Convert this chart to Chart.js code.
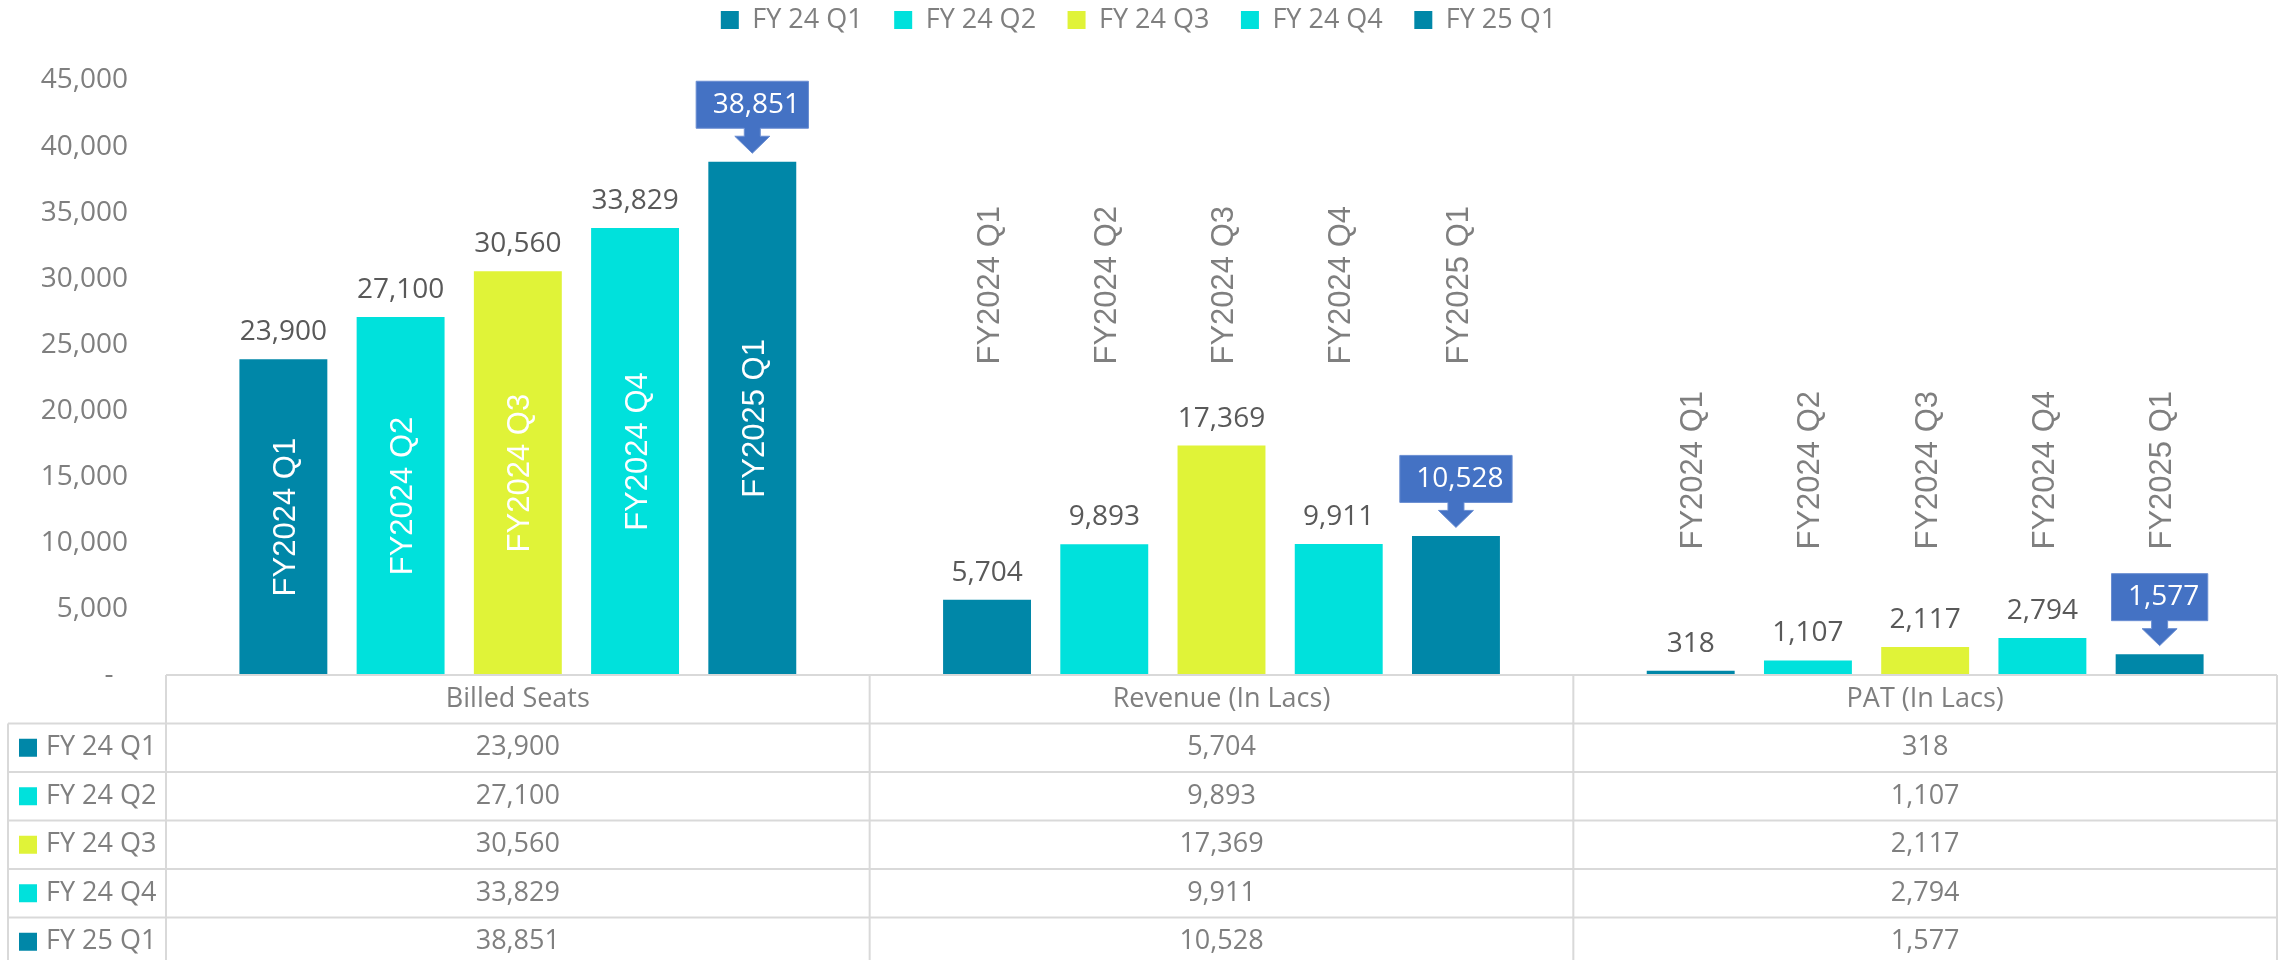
<!DOCTYPE html>
<html><head><meta charset="utf-8">
<script src="https://cdn.jsdelivr.net/npm/chart.js@4.4.1/dist/chart.umd.min.js"></script>
<style>html,body{margin:0;padding:0;background:#fff;overflow:hidden}#wrap{width:2285px;height:960px;position:relative}</style>
</head><body><div id="wrap"><canvas id="c" width="2285" height="960"></canvas></div>
<script>
const categories = ['Billed Seats', 'Revenue (In Lacs)', 'PAT (In Lacs)'];
const seriesNames = ['FY 24 Q1', 'FY 24 Q2', 'FY 24 Q3', 'FY 24 Q4', 'FY 25 Q1'];
const barTags = ['FY2024 Q1', 'FY2024 Q2', 'FY2024 Q3', 'FY2024 Q4', 'FY2025 Q1'];
const fy24q1 = [23900, 5704, 318];
const fy24q2 = [27100, 9893, 1107];
const fy24q3 = [30560, 17369, 2117];
const fy24q4 = [33829, 9911, 2794];
const fy25q1 = [38851, 10528, 1577];
const yTicks = [0, 5000, 10000, 15000, 20000, 25000, 30000, 35000, 40000, 45000];

const seriesValues = [fy24q1, fy24q2, fy24q3, fy24q4, fy25q1];
const seriesColors = ['#0087A8', '#00E1DC', '#E0F338', '#00E1DC', '#0087A8'];
const calloutSeries = 4;
// vertical anchor (axis units) of rotated tags per category; null = middle of bar
const tagAnchor = [null, 29500, 15500];

const FONT = '"Open Sans", "Liberation Sans", sans-serif';
const fmt = v => v.toLocaleString('en-US');

const legendSpacing = {
  id: 'legendSpacing',
  afterInit(chart) {
    const lg = chart.legend;
    if (!lg || lg._patched) return;
    const orig = lg.fit;
    lg.fit = function () { orig.call(this); this.height += 37; };
    lg._patched = true;
  }
};

const barLabels = {
  id: 'barLabels',
  afterDatasetsDraw(chart) {
    const ctx = chart.ctx;
    const ys = chart.scales.y;
    ctx.save();
    chart.data.datasets.forEach((ds, di) => {
      const meta = chart.getDatasetMeta(di);
      meta.data.forEach((bar, i) => {
        const v = ds.data[i];
        const txt = fmt(v);
        const bx = bar.x, by = bar.y;
        // rotated tag
        ctx.save();
        let ty, col;
        if (tagAnchor[i] === null) { ty = (bar.y + bar.base) / 2; col = '#FFFFFF'; }
        else { ty = ys.getPixelForValue(tagAnchor[i]); col = '#7F7F7F'; }
        ctx.translate(bx + 1, ty);
        ctx.rotate(-Math.PI / 2);
        ctx.font = '31px "Liberation Sans", Arial, sans-serif';
        ctx.fillStyle = col;
        ctx.textAlign = 'center';
        ctx.textBaseline = 'middle';
        ctx.fillText(barTags[di], 0, 2);
        ctx.restore();

        ctx.font = '28px ' + FONT;
        if (di === calloutSeries) {
          const tw = ctx.measureText(txt).width;
          const bw = tw + 25, bh = 47;
          const tip = by - 8.5;
          const headTop = tip - 17;
          const stemTop = headTop - 8;
          const boxBottom = stemTop;
          const boxTop = boxBottom - bh;
          ctx.fillStyle = '#4472C4';
          ctx.strokeStyle = '#6A8ED2';
          ctx.lineWidth = 1;
          ctx.beginPath();
          ctx.moveTo(bx - bw / 2, boxTop);
          ctx.lineTo(bx + bw / 2, boxTop);
          ctx.lineTo(bx + bw / 2, boxBottom);
          ctx.lineTo(bx + 8, boxBottom);
          ctx.lineTo(bx + 8, headTop);
          ctx.lineTo(bx + 17.5, headTop);
          ctx.lineTo(bx, tip);
          ctx.lineTo(bx - 17.5, headTop);
          ctx.lineTo(bx - 8, headTop);
          ctx.lineTo(bx - 8, boxBottom);
          ctx.lineTo(bx - bw / 2, boxBottom);
          ctx.closePath();
          ctx.fill();
          ctx.stroke();
          ctx.fillStyle = '#FFFFFF';
          ctx.textAlign = 'center';
          ctx.textBaseline = 'middle';
          ctx.fillText(txt, bx + 4, (boxTop + boxBottom) / 2);
        } else {
          ctx.fillStyle = '#595959';
          ctx.textAlign = 'center';
          ctx.textBaseline = 'alphabetic';
          ctx.fillText(txt, bx, by - 19);
        }
      });
    });
    ctx.restore();
  }
};

const dataTable = {
  id: 'dataTable',
  afterDraw(chart) {
    const ctx = chart.ctx;
    const ca = chart.chartArea;
    const xs = chart.scales.x;
    const H = chart.height;
    const n = categories.length;
    const colW = ca.width / n;
    const rowH = 48.5;
    const top = ca.bottom;
    const leftCol = 8;
    const rows = chart.data.datasets.length;
    ctx.save();
    ctx.strokeStyle = '#D9D9D9';
    ctx.lineWidth = 2;
    const line = (x1, y1, x2, y2) => { ctx.beginPath(); ctx.moveTo(x1, y1); ctx.lineTo(x2, y2); ctx.stroke(); };
    line(ca.left, top, ca.right, top);
    for (let r = 1; r <= rows; r++) line(leftCol, top + r * rowH, ca.right, top + r * rowH);
    for (let c = 0; c <= n; c++) line(ca.left + c * colW, top, ca.left + c * colW, H);
    line(leftCol, top + rowH, leftCol, H);

    ctx.font = '27px ' + FONT;
    ctx.fillStyle = '#7F7F7F';
    ctx.textAlign = 'center';
    ctx.textBaseline = 'middle';
    for (let c = 0; c < n; c++) ctx.fillText(categories[c], xs.getPixelForValue(c), top + rowH / 2);
    chart.data.datasets.forEach((ds, r) => {
      const cy = top + rowH * (r + 1) + rowH / 2;
      ctx.fillStyle = ds.backgroundColor;
      ctx.fillRect(19, cy - 9, 18, 18);
      ctx.fillStyle = '#7F7F7F';
      ctx.textAlign = 'left';
      ctx.fillText(ds.label, 46, cy);
      ctx.textAlign = 'center';
      for (let c = 0; c < n; c++) ctx.fillText(fmt(ds.data[c]), xs.getPixelForValue(c), cy);
    });
    ctx.restore();
  }
};

new Chart(document.getElementById('c'), {
  type: 'bar',
  data: {
    labels: categories,
    datasets: seriesNames.map((name, i) => ({
      label: name,
      data: seriesValues[i],
      backgroundColor: seriesColors[i],
      borderWidth: 0,
      categoryPercentage: 0.833,
      barPercentage: 0.75
    }))
  },
  options: {
    responsive: false,
    devicePixelRatio: 1,
    animation: false,
    layout: { padding: { top: -25, left: 0, right: 8, bottom: 285 } },
    plugins: {
      legend: {
        position: 'top',
        labels: {
          font: { family: FONT, size: 27 },
          color: '#7F7F7F',
          boxWidth: 18,
          boxHeight: 18,
          padding: 31.5
        }
      },
      tooltip: { enabled: false }
    },
    scales: {
      x: { display: false },
      y: {
        min: 0,
        max: 45000,
        afterBuildTicks: s => { s.ticks = yTicks.map(v => ({ value: v })); },
        afterFit: s => { s.width = 166; },
        grid: { display: false, drawTicks: false },
        border: { display: false },
        ticks: {
          padding: 38,
          font: { family: FONT, size: 28 },
          color: '#7F7F7F',
          callback: v => (v === 0 ? '-  ' : fmt(v))
        }
      }
    }
  },
  plugins: [legendSpacing, barLabels, dataTable]
});
</script>
</body></html>
